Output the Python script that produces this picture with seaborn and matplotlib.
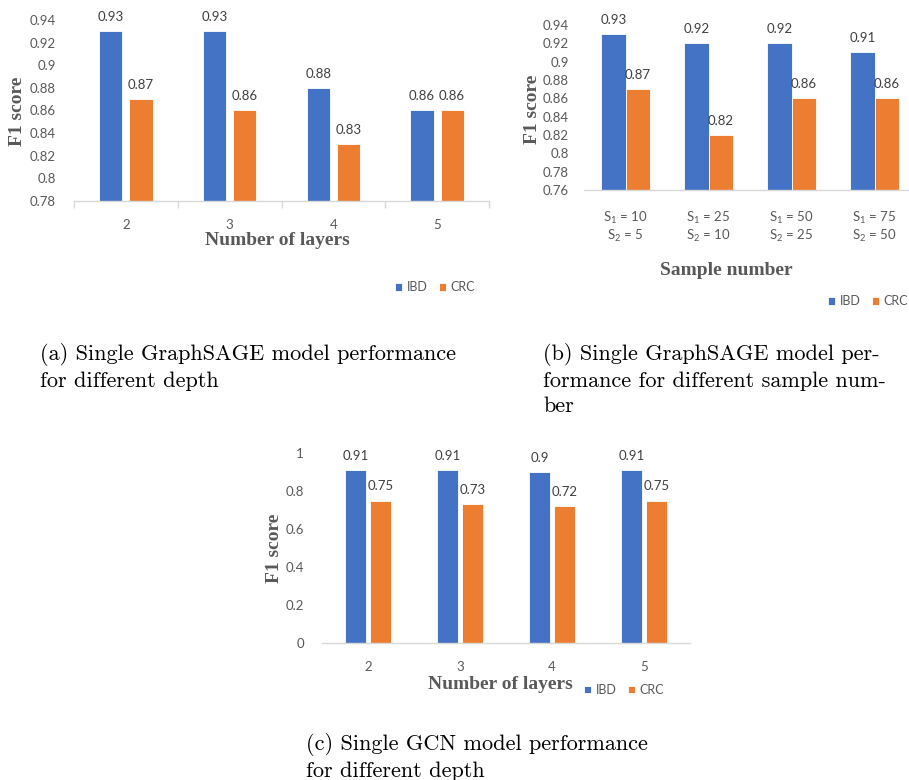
import matplotlib
matplotlib.use("Agg")
import matplotlib.pyplot as plt
import numpy as np
import pandas as pd
import seaborn as sns
from matplotlib.ticker import FixedLocator, FormatStrFormatter

# ---------------- data ----------------
layers = ["2", "3", "4", "5"]
a_ibd = [0.93, 0.93, 0.88, 0.86]
a_crc = [0.87, 0.86, 0.83, 0.86]

samples = ["S$_1$ = 10\nS$_2$ = 5", "S$_1$ = 25\nS$_2$ = 10",
           "S$_1$ = 50\nS$_2$ = 25", "S$_1$ = 75\nS$_2$ = 50"]
b_ibd = [0.93, 0.92, 0.92, 0.91]
b_crc = [0.87, 0.82, 0.86, 0.86]

c_ibd = [0.91, 0.91, 0.90, 0.91]
c_crc = [0.75, 0.73, 0.72, 0.75]

series = ["IBD", "CRC"]
a_yticks = [0.78, 0.80, 0.82, 0.84, 0.86, 0.88, 0.90, 0.92, 0.94]
b_yticks = [0.76, 0.78, 0.80, 0.82, 0.84, 0.86, 0.88, 0.90, 0.92, 0.94]
c_yticks = [0, 0.2, 0.4, 0.6, 0.8, 1.0]

captions = [
    "(a) Single GraphSAGE model performance\nfor different depth",
    "(b) Single GraphSAGE model per-\nformance for different sample num-\nber",
    "(c) Single GCN model performance\nfor different depth",
]

BLUE = "#4472C4"
ORANGE = "#ED7D31"
TICK = "#595959"
LABEL = "#404040"
SPINE = "#D9D9D9"

sns.set_theme(style="white")
plt.rcParams["font.family"] = ["Lato", "DejaVu Sans"]
plt.rcParams["mathtext.fontset"] = "custom"
plt.rcParams["mathtext.rm"] = "Lato"
plt.rcParams["mathtext.it"] = "Lato"

W, H = 909, 780
fig = plt.figure(figsize=(W / 100, H / 100), dpi=100)


def make_df(cats, ibd, crc):
    return pd.DataFrame({
        "cat": cats * 2,
        "val": ibd + crc,
        "series": [series[0]] * len(cats) + [series[1]] * len(cats),
    })


def axes_px(x0, x1, ybot, ytop):
    return fig.add_axes([x0 / W, 1 - ybot / H, (x1 - x0) / W, (ybot - ytop) / H])


def draw(ax, df, width, gap, yticks, ylim, xlabel, xl_pos, yl_pos, leg_pos,
         xpad, ypad, boundary_ticks):
    sns.barplot(data=df, x="cat", y="val", hue="series",
                palette=[BLUE, ORANGE], saturation=1, width=width, gap=gap,
                edgecolor="white", linewidth=0.6, ax=ax, errorbar=None)
    ax.set_ylim(*ylim)
    ax.yaxis.set_major_locator(FixedLocator(yticks))
    ax.yaxis.set_major_formatter(FormatStrFormatter("%g"))
    ax.set_xlim(-0.5, len(df["cat"].unique()) - 0.5)
    for s in ["left", "top", "right"]:
        ax.spines[s].set_visible(False)
    ax.spines["bottom"].set_color(SPINE)
    ax.spines["bottom"].set_linewidth(1.0)
    ax.tick_params(axis="y", length=0, pad=ypad, labelsize=9.5, labelcolor=TICK)
    ax.tick_params(axis="x", length=0, pad=xpad, labelsize=9.5, labelcolor=TICK)
    if boundary_ticks:
        n = len(df["cat"].unique())
        ax.set_xticks(np.arange(-0.5, n, 1.0), minor=True)
        ax.tick_params(axis="x", which="minor", length=5, width=1.0,
                       color=SPINE, bottom=True)
    for cont in ax.containers:
        ax.bar_label(cont, fmt="%g", padding=6, fontsize=9.5, color=LABEL)
    ax.set_xlabel(xlabel, family="Liberation Serif", fontweight="bold",
                  fontsize=14, color=TICK, va="center")
    ax.xaxis.set_label_coords(*xl_pos)
    ax.set_ylabel("F1 score", family="Liberation Serif", fontweight="bold",
                  fontsize=14, color=TICK, va="center")
    ax.yaxis.set_label_coords(*yl_pos)
    leg = ax.get_legend()
    handles = leg.legend_handles
    labels = [t.get_text() for t in leg.texts]
    leg.remove()
    ax.legend(handles, labels, loc="center", bbox_to_anchor=leg_pos, ncol=2,
              frameon=False, fontsize=9, labelcolor=TICK, handlelength=0.6,
              handleheight=0.6, handletextpad=0.35, columnspacing=0.9,
              borderpad=0.2)


# (a)
ax_a = axes_px(74, 489, 201, 20)
draw(ax_a, make_df(layers, a_ibd, a_crc), 0.58, 0.23, a_yticks, (0.78, 0.94),
     "Number of layers", (0.49, -0.22), (-0.135, 0.497), (0.87, -0.475),
     xpad=13, ypad=13, boundary_ticks=True)

# (b)
ax_b = axes_px(584, 916, 190, 25)
draw(ax_b, make_df(samples, b_ibd, b_crc), 0.58, 0.0, b_yticks, (0.76, 0.94),
     "Sample number", (0.43, -0.485), (-0.154, 0.49), (0.855, -0.673),
     xpad=14, ypad=11, boundary_ticks=False)

# (c)
ax_c = axes_px(322, 690, 643, 453)
draw(ax_c, make_df(layers, c_ibd, c_crc), 0.54, 0.16, c_yticks, (0.0, 1.0),
     "Number of layers", (0.484, -0.216), (-0.128, 0.5), (0.82, -0.247),
     xpad=13, ypad=13, boundary_ticks=False)

# captions
cap_kw = dict(family="cmr10", fontsize=16, color="black", va="top", ha="left",
              linespacing=1.35)
fig.text(40 / W, 1 - 343 / H, captions[0], **cap_kw)
fig.text(543 / W, 1 - 343 / H, captions[1], **cap_kw)
fig.text(306 / W, 1 - 733 / H, captions[2], **cap_kw)

fig.savefig("out.png", dpi=100)
